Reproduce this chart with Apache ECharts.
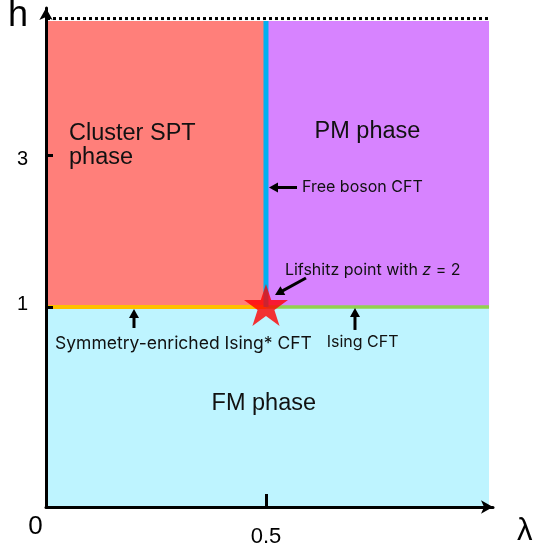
<!DOCTYPE html>
<html><head><meta charset="utf-8">
<script src="https://cdn.jsdelivr.net/npm/echarts@6/dist/echarts.min.js"></script>
<style>html,body{margin:0;padding:0;background:#fff}#c{width:539px;height:554px}</style>
</head><body><div id="c"></div>
<script>
// ---------------- data ----------------
const lambdaTickValues = [0, 0.5];
const lambdaTickLabels = ['0', '0.5'];
const hTickValues = [1, 3];
const hTickLabels = ['1', '3'];
const lambdaAxisMax = 1.016;
const hAxisMax = 5.91;
const lambdaEdge = 1.007;
const hEdge = 5.615;
const hDotted = 5.67;

const criticalLambda = [0.5];
const criticalH = [1];

const regionNames = ['Cluster SPT phase', 'PM phase', 'FM phase'];
const regionLambdaFrom = [0, 0.5, 0];
const regionLambdaTo = [0.5, 1.007, 1.007];
const regionHFrom = [1, 1, 0];
const regionHTo = [5.615, 5.615, 1];

const boundaryNames = ['Symmetry-enriched Ising* CFT', 'Ising CFT', 'Free boson CFT'];
const boundaryLambdaFrom = [0, 0.5, 0.5];
const boundaryLambdaTo = [0.5, 1.007, 0.5];
const boundaryHFrom = [1, 1, 1];
const boundaryHTo = [1, 1, 5.615];

const labelTexts = ['Cluster SPT\nphase', 'PM phase', 'FM phase', 'Free boson CFT',
  'Lifshitz point with {i|z} = 2', 'Symmetry-enriched Ising* CFT', 'Ising CFT'];
const labelLambda = [0.0523, 0.7307, 0.495, 0.5818, 0.543, 0.0205, 0.638];
const labelH = [3.167, 3.392, 0.2754, 2.485, 1.394, 0.6776, 0.684];

const arrowLambdaFrom = [0.5705, 0.5909, 0.2, 0.7023];
const arrowHFrom = [2.485, 1.301, 0.806, 0.789];
const arrowLambdaTo = [0.5068, 0.5205, 0.2, 0.7023];
const arrowHTo = [2.485, 1.12, 0.981, 0.99];

// ---------------- styles ----------------
const regionColors = ['#FF7F7A', '#D783FF', '#BEF4FF'];
const boundaryColors = ['#FFC000', '#92D050', '#00B0F0'];
const boundaryWidths = [4, 3.5, 5];
const smallFont = 'Inter';
const bigFont = '"Liberation Sans", Arial';
const labelFontSize = [23.5, 23.5, 23.5, 16, 16, 17.5, 16];
const labelFontFamily = [bigFont, bigFont, bigFont, smallFont, smallFont, smallFont, smallFont];
const labelAlign = ['left', 'center', 'center', 'left', 'left', 'left', 'left'];

// nonlinear (power) display of h, as in the schematic
const P = 0.5146;
const tf = h => Math.pow(h, P);

function starPath() {
  let s = '';
  for (let k = 0; k < 10; k++) {
    const r = k % 2 ? 0.382 : 1;
    const a = (-90 + 36 * k) * Math.PI / 180;
    s += (k ? 'L' : 'M') + (r * Math.cos(a) * 100).toFixed(2) + ' ' + (r * Math.sin(a) * 100).toFixed(2);
  }
  return 'path://' + s + 'Z';
}

const regionData = regionNames.map((n, i) => [regionLambdaFrom[i], regionLambdaTo[i], tf(regionHFrom[i]), tf(regionHTo[i]), i]);
const boundaryData = boundaryNames.map((n, i) => [boundaryLambdaFrom[i], boundaryLambdaTo[i], tf(boundaryHFrom[i]), tf(boundaryHTo[i]), i]);
const labelData = labelTexts.map((t, i) => [labelLambda[i], tf(labelH[i]), i]);
const arrowData = arrowLambdaFrom.map((x, i) => [x, tf(arrowHFrom[i]), arrowLambdaTo[i], tf(arrowHTo[i])]);

const chart = echarts.init(document.getElementById('c'), null, {renderer: 'canvas'});

const option = {
  animation: false,
  grid: {left: 46, right: 46, top: 8, bottom: 47, containLabel: false, outerBoundsMode: 'none'},
  xAxis: {
    type: 'value', min: 0, max: lambdaAxisMax, z: 10,
    name: 'λ', nameLocation: 'end', nameGap: 24,
    nameTextStyle: {fontSize: 31, fontFamily: bigFont, color: '#000', align: 'left', verticalAlign: 'top', padding: [9, 0, 0, 0]},
    axisLine: {show: true, symbol: ['none', 'arrow'], symbolSize: [10, 12], lineStyle: {color: '#000', width: 3}},
    axisTick: {show: true, inside: true, length: 13, customValues: [0.5], lineStyle: {color: '#000', width: 3}},
    splitLine: {show: false},
    axisLabel: {
      customValues: lambdaTickValues, margin: 30, verticalAlign: 'middle',
      formatter: v => {
        const i = lambdaTickValues.findIndex(t => Math.abs(t - v) < 1e-9);
        return i === 0 ? '{o|' + lambdaTickLabels[i] + '}' : '{h|' + lambdaTickLabels[i] + '}';
      },
      rich: {
        o: {fontSize: 26, fontFamily: bigFont, color: '#000', padding: [0, 21, 21, 0]},
        h: {fontSize: 22, fontFamily: bigFont, color: '#000'}
      }
    }
  },
  yAxis: {
    type: 'value', min: 0, max: tf(hAxisMax), z: 10,
    name: 'h', nameLocation: 'end', nameGap: -8,
    nameTextStyle: {fontSize: 36, fontFamily: bigFont, color: '#000', align: 'right', verticalAlign: 'middle', padding: [0, 18, 0, 0]},
    axisLine: {show: true, symbol: ['none', 'arrow'], symbolSize: [10, 12], lineStyle: {color: '#000', width: 3}},
    axisTick: {show: true, inside: true, length: 7, customValues: hTickValues.map(tf), lineStyle: {color: '#000', width: 3}},
    splitLine: {show: false},
    axisLabel: {
      customValues: hTickValues.map(tf), margin: 18,
      formatter: v => {
        const i = hTickValues.findIndex(t => Math.abs(tf(t) - v) < 1e-9);
        return '{t' + i + '|' + hTickLabels[i] + '}';
      },
      rich: {
        t0: {fontSize: 20, fontFamily: bigFont, color: '#000', padding: [0, 0, 5, 0]},
        t1: {fontSize: 20, fontFamily: bigFont, color: '#000', padding: [10, 0, 0, 0]}
      }
    }
  },
  series: [
    {
      type: 'custom', name: 'phases', z: 1, silent: true,
      data: regionData,
      renderItem: (params, api) => {
        const p0 = api.coord([api.value(0), api.value(2)]);
        const p1 = api.coord([api.value(1), api.value(3)]);
        return {type: 'rect', shape: {x: p0[0], y: p1[1], width: p1[0] - p0[0], height: p0[1] - p1[1]},
          style: {fill: regionColors[api.value(4)]}};
      }
    },
    {
      type: 'custom', name: 'top', z: 2, silent: true,
      data: [[0, tf(hDotted), lambdaEdge]],
      renderItem: (params, api) => {
        const a = api.coord([api.value(0), api.value(1)]);
        const b = api.coord([api.value(2), api.value(1)]);
        return {type: 'line', shape: {x1: a[0] + 1, y1: a[1], x2: b[0], y2: b[1]},
          style: {stroke: '#000', lineWidth: 3, lineDash: [3, 3]}};
      }
    },
    {
      type: 'custom', name: 'boundaries', z: 3, silent: true,
      data: boundaryData,
      renderItem: (params, api) => {
        const i = api.value(4);
        const a = api.coord([api.value(0), api.value(2)]);
        const b = api.coord([api.value(1), api.value(3)]);
        return {type: 'line', shape: {x1: a[0], y1: a[1], x2: b[0], y2: b[1]},
          style: {stroke: boundaryColors[i], lineWidth: boundaryWidths[i]}};
      }
    },
    {
      type: 'scatter', name: 'Lifshitz point', z: 5, silent: true,
      symbol: starPath(), symbolSize: [44, 42], symbolOffset: [0, -2],
      itemStyle: {color: '#FF0000'},
      data: criticalLambda.map((x, i) => [x, tf(criticalH[i])])
    },
    {
      type: 'custom', name: 'arrows', z: 6, silent: true,
      data: arrowData,
      renderItem: (params, api) => {
        const a = api.coord([api.value(0), api.value(1)]);
        const b = api.coord([api.value(2), api.value(3)]);
        const dx = b[0] - a[0], dy = b[1] - a[1];
        const L = Math.hypot(dx, dy); const ux = dx / L, uy = dy / L;
        const hl = 9, hw = 5;
        const bx = b[0] - ux * hl, by = b[1] - uy * hl;
        return {type: 'group', children: [
          {type: 'line', shape: {x1: a[0], y1: a[1], x2: bx + ux, y2: by + uy}, style: {stroke: '#000', lineWidth: 3}},
          {type: 'polygon', shape: {points: [[b[0], b[1]], [bx - uy * hw, by + ux * hw], [bx + uy * hw, by - ux * hw]]}, style: {fill: '#000'}}
        ]};
      }
    },
    {
      type: 'custom', name: 'labels', z: 7, silent: true,
      data: labelData,
      renderItem: (params, api) => {
        const i = api.value(2);
        const p = api.coord([api.value(0), api.value(1)]);
        return {type: 'text', x: p[0], y: p[1], style: {
          text: labelTexts[i], fill: '#111',
          fontSize: labelFontSize[i], fontFamily: labelFontFamily[i],
          lineHeight: labelFontSize[i] > 20 ? 24 : 18,
          align: labelAlign[i], verticalAlign: 'middle',
          rich: {i: {fontStyle: 'italic', fontSize: labelFontSize[i], fontFamily: smallFont, fill: '#111'}}
        }};
      }
    }
  ]
};
chart.setOption(option);
</script>
</body></html>
